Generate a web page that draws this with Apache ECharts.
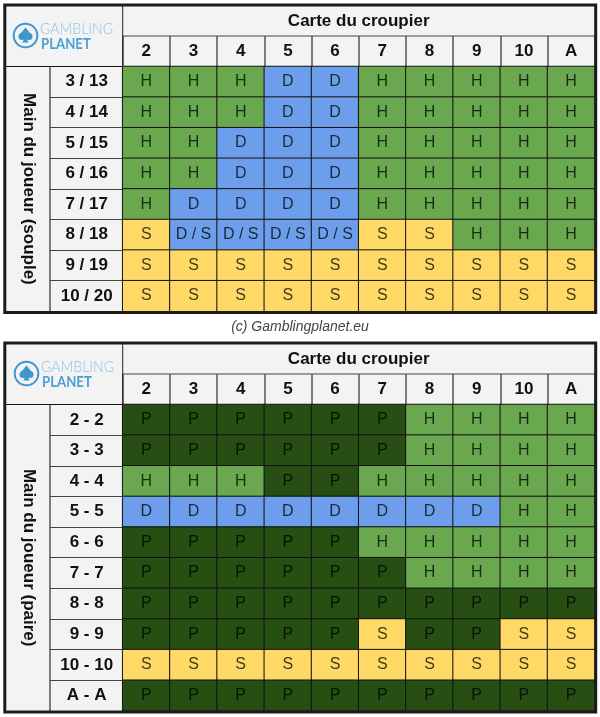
<!DOCTYPE html>
<html><head><meta charset="utf-8">
<style>html,body{margin:0;padding:0;background:#fff}#c{width:600px;height:717px}</style>
<script src="https://cdn.jsdelivr.net/npm/echarts@6/dist/echarts.min.js"></script>
</head><body><div id="c"></div>
<script>
const dealerCards = ['2','3','4','5','6','7','8','9','10','A'];
const softHands = ['3 / 13','4 / 14','5 / 15','6 / 16','7 / 17','8 / 18','9 / 19','10 / 20'];
const softMoves = [
 ['H','H','H','D','D','H','H','H','H','H'],
 ['H','H','H','D','D','H','H','H','H','H'],
 ['H','H','D','D','D','H','H','H','H','H'],
 ['H','H','D','D','D','H','H','H','H','H'],
 ['H','D','D','D','D','H','H','H','H','H'],
 ['S','D / S','D / S','D / S','D / S','S','S','H','H','H'],
 ['S','S','S','S','S','S','S','S','S','S'],
 ['S','S','S','S','S','S','S','S','S','S']
];
const pairHands = ['2 - 2','3 - 3','4 - 4','5 - 5','6 - 6','7 - 7','8 - 8','9 - 9','10 - 10','A - A'];
const pairMoves = [
 ['P','P','P','P','P','P','H','H','H','H'],
 ['P','P','P','P','P','P','H','H','H','H'],
 ['H','H','H','P','P','H','H','H','H','H'],
 ['D','D','D','D','D','D','D','D','H','H'],
 ['P','P','P','P','P','H','H','H','H','H'],
 ['P','P','P','P','P','P','H','H','H','H'],
 ['P','P','P','P','P','P','P','P','P','P'],
 ['P','P','P','P','P','S','P','P','S','S'],
 ['S','S','S','S','S','S','S','S','S','S'],
 ['P','P','P','P','P','P','P','P','P','P']
];
const moveColors = {H:'#6aa84f',D:'#6d9eeb','D / S':'#6d9eeb',S:'#ffd966',P:'#274e13'};
const xTitle = 'Carte du croupier';
const softTitle = 'Main du joueur (souple)';
const pairTitle = 'Main du joueur (paire)';
const caption = '(c) Gamblingplanet.eu';

const FONT = '"Liberation Sans", Arial, sans-serif';

const panels = [
 {hands:softHands,moves:softMoves,title:softTitle,top:66.5,height:244.8,headTop:5.5,logoDx:0,logoDy:0,frameBottom:312.5},
 {hands:pairHands,moves:pairMoves,title:pairTitle,top:404.5,height:306.4,headTop:343.5,logoDx:1,logoDy:338,frameBottom:712}
];
const L=122.7, W=472, R=L+W;

const graphic=[]; const grids=[], xAxes=[], yAxes=[], series=[];
panels.forEach((p,k)=>{
  const bottom=p.top+p.height, mid=(p.headTop+p.top)/2;
  const g=[];
  g.push({type:'rect',shape:{x:5,y:p.headTop,width:590,height:p.frameBottom-p.headTop},style:{fill:'#f3f3f3'},z:-10});
  const line=(x1,y1,x2,y2,c,w)=>g.push({type:'line',shape:{x1,y1,x2,y2},style:{stroke:c,lineWidth:w},z:1});
  line(L,mid,R,mid,'#444',1);
  line(L,p.headTop,L,p.top,'#222',1);
  line(5,p.top,L,p.top,'#111',1);
  line(50,p.top,50,bottom,'#555',1.5);
  g.push({type:'rect',shape:{x:4.8,y:p.headTop-0.5,width:590.9,height:p.frameBottom-p.headTop+0.5},style:{fill:'none',stroke:'#1c1c1c',lineWidth:3},z:5});
  // logo
  const dx=p.logoDx, dy=p.logoDy, cx=25.5+dx, cy=35.5+dy, blue='#3f96cf';
  g.push({type:'circle',shape:{cx,cy,r:11.8},style:{fill:'none',stroke:blue,lineWidth:2},z:3});
  g.push({type:'circle',shape:{cx:cx-3.5,cy:cy+1,r:3.5},style:{fill:blue},z:3});
  g.push({type:'circle',shape:{cx:cx+3.5,cy:cy+1,r:3.5},style:{fill:blue},z:3});
  g.push({type:'polygon',shape:{points:[[cx,cy-8],[cx+6.2,cy-0.6],[cx,cy+3],[cx-6.2,cy-0.6]]},style:{fill:blue},z:3});
  g.push({type:'polygon',shape:{points:[[cx-0.8,cy+2],[cx+0.8,cy+2],[cx+3,cy+7],[cx-3,cy+7]]},style:{fill:blue},z:3});
  g.push({type:'text',x:40+dx,y:29+dy,scaleX:0.88,style:{text:'GAMBLING',font:'300 16px Lato, sans-serif',fill:'#8cc4e4',textVerticalAlign:'middle'},z:3});
  g.push({type:'text',x:41+dx,y:44+dy,scaleX:0.85,style:{text:'PLANET',font:'700 15.5px Lato, sans-serif',fill:'#4b9fd2',textVerticalAlign:'middle'},z:3});
  graphic.push(...g);

  grids.push({left:L,top:p.top,width:W,height:p.height,containLabel:false});
  xAxes.push({gridIndex:k,type:'category',data:dealerCards,position:'top',
    name:xTitle,nameLocation:'middle',nameGap:37,
    nameTextStyle:{fontFamily:FONT,fontWeight:'bold',fontSize:17,color:'#111'},
    axisLine:{show:false},
    axisTick:{show:true,length:p.top-mid,lineStyle:{color:'#555',width:1.5}},
    axisLabel:{fontFamily:FONT,fontWeight:'bold',fontSize:17,color:'#111',margin:(p.top-mid)/2,verticalAlign:'middle',interval:0},
    splitLine:{show:false}});
  yAxes.push({gridIndex:k,type:'category',data:p.hands,inverse:true,
    name:p.title,nameLocation:'middle',nameGap:86,nameRotate:-90,
    nameTextStyle:{fontFamily:FONT,fontWeight:'bold',fontSize:17,color:'#111'},
    axisLine:{show:false},
    axisTick:{show:true,length:73,lineStyle:{color:'#444',width:1}},
    axisLabel:{fontFamily:FONT,fontWeight:'bold',fontSize:17,color:'#111',margin:36,align:'center',interval:0},
    splitLine:{show:false}});
  const data=[];
  p.moves.forEach((row,j)=>row.forEach((m,i)=>data.push({name:m,value:[i,j,1],itemStyle:{color:moveColors[m]}})));
  series.push({type:'heatmap',xAxisIndex:k,yAxisIndex:k,data,
    itemStyle:{borderColor:'#111',borderWidth:1},
    label:{show:true,formatter:'{b}',fontFamily:FONT,fontSize:16,color:'rgba(0,0,0,0.75)'},
    emphasis:{disabled:true},progressive:0,animation:false});
});
graphic.push({type:'text',x:300,y:327,style:{text:caption,font:'italic 14px "Liberation Sans", Arial, sans-serif',fill:'#444',textAlign:'center',textVerticalAlign:'middle'}});

const chart=echarts.init(document.getElementById('c'),null,{renderer:'canvas',width:600,height:717});
chart.setOption({animation:false,backgroundColor:'#fff',tooltip:{show:false},grid:grids,xAxis:xAxes,yAxis:yAxes,series,graphic:{elements:graphic}});
</script></body></html>
